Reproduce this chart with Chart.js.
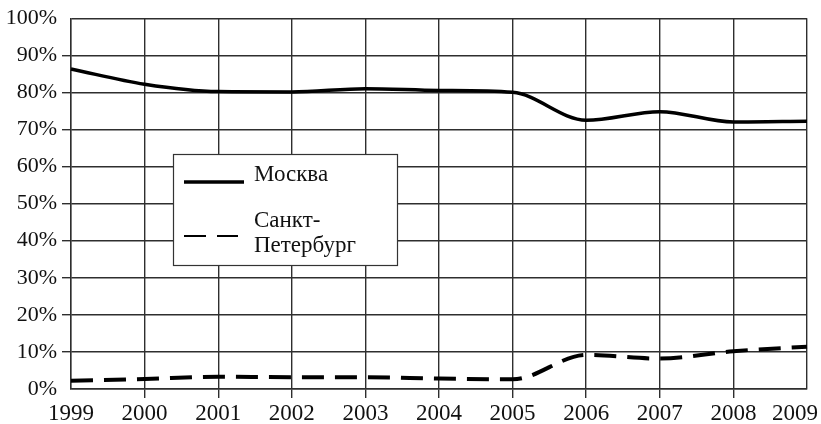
<!DOCTYPE html>
<html lang="ru">
<head>
<meta charset="utf-8">
<title>Москва и Санкт-Петербург, 1999–2009</title>
<script src="https://cdn.jsdelivr.net/npm/chart.js@4/dist/chart.umd.min.js"></script>
<style>
  html, body { margin: 0; padding: 0; background: #fff; }
  #wrap { width: 821px; height: 424px; }
</style>
</head>
<body>
<div id="wrap"><canvas id="chart" width="821" height="424"></canvas></div>
<script>
const years = ["1999", "2000", "2001", "2002", "2003", "2004", "2005", "2006", "2007", "2008", "2009"];
const moscow = [86.3, 82.2, 80.2, 80.1, 81.0, 80.5, 80.0, 72.5, 74.8, 72.0, 72.2];
const spb = [2.2, 2.7, 3.3, 3.2, 3.2, 2.8, 2.6, 9.2, 8.2, 10.2, 11.4];
const legendNames = ["Москва", ["Санкт-", "Петербург"]];

const INK = "#111";
const GRID = "#2e2e2e";
const SERIF = "'Liberation Serif', 'DejaVu Serif', serif";

// no tick stub at the frame edges, only at inner grid lines
const stubColor = (ctx) =>
  ctx.index === 0 || ctx.index === ctx.chart.scales[ctx.scale.id].ticks.length - 1
    ? "rgba(0,0,0,0)"
    : GRID;

// year labels under the axis, kept inside the canvas at the right end
const yearLabels = {
  id: "yearLabels",
  afterDraw(chart) {
    const { ctx, scales } = chart;
    const x = scales.x;
    ctx.save();
    ctx.font = "23px " + SERIF;
    ctx.fillStyle = INK;
    ctx.textAlign = "left";
    ctx.textBaseline = "alphabetic";
    years.forEach((label, i) => {
      const w = ctx.measureText(label).width;
      let left = x.getPixelForTick(i) - w / 2;
      left = Math.min(left, chart.width - 3 - w);
      ctx.fillText(label, left, 420);
    });
    ctx.restore();
  },
};

// boxed legend inside the plot
const boxLegend = {
  id: "boxLegend",
  afterDraw(chart) {
    const { ctx } = chart;
    const box = { x: 173.5, y: 154.5, w: 224, h: 111 };
    ctx.save();
    ctx.fillStyle = "#fff";
    ctx.fillRect(box.x, box.y, box.w, box.h);
    ctx.strokeStyle = "#333";
    ctx.lineWidth = 1.2;
    ctx.strokeRect(box.x, box.y, box.w, box.h);

    ctx.strokeStyle = "#000";
    ctx.lineCap = "butt";
    ctx.lineWidth = 3.5;
    ctx.beginPath();
    ctx.moveTo(184, 182);
    ctx.lineTo(244, 182);
    ctx.stroke();

    ctx.lineWidth = 2;
    ctx.setLineDash([22, 11]);
    ctx.beginPath();
    ctx.moveTo(184, 236);
    ctx.lineTo(238, 236);
    ctx.stroke();
    ctx.setLineDash([]);

    ctx.fillStyle = INK;
    ctx.font = "23px " + SERIF;
    ctx.textBaseline = "alphabetic";
    ctx.fillText(legendNames[0], 254, 181);
    ctx.fillText(legendNames[1][0], 254, 227);
    ctx.fillText(legendNames[1][1], 254, 252);
    ctx.restore();
  },
};

new Chart(document.getElementById("chart"), {
  type: "line",
  data: {
    labels: years,
    datasets: [
      {
        label: "Москва",
        data: moscow,
        borderColor: "#000",
        borderWidth: 3.5,
        cubicInterpolationMode: "monotone",
        pointRadius: 0,
        fill: false,
      },
      {
        label: "Санкт-Петербург",
        data: spb,
        borderColor: "#000",
        borderWidth: 4,
        borderDash: [22, 11],
        cubicInterpolationMode: "monotone",
        pointRadius: 0,
        fill: false,
      },
    ],
  },
  options: {
    responsive: false,
    animation: false,
    layout: { padding: { top: 18, right: 14, left: 0, bottom: 0 } },
    plugins: {
      legend: { display: false },
      tooltip: { enabled: false },
    },
    scales: {
      x: {
        offset: false,
        grid: {
          color: GRID,
          lineWidth: 1.4,
          drawTicks: true,
          tickLength: 9,
          tickColor: stubColor,
        },
        border: { color: GRID, width: 1.4 },
        ticks: { display: false },
        afterFit(scale) {
          scale.height = 35;
        },
      },
      y: {
        min: 0,
        max: 100,
        grid: {
          color: GRID,
          lineWidth: 1.4,
          drawTicks: true,
          tickLength: 9,
          tickColor: stubColor,
        },
        border: { color: GRID, width: 1.4 },
        ticks: {
          stepSize: 10,
          padding: 5,
          color: INK,
          font: { family: SERIF, size: 22 },
          callback: (v) => v + "%",
        },
        afterFit(scale) {
          scale.width = 71;
        },
      },
    },
  },
  plugins: [yearLabels, boxLegend],
});
</script>
</body>
</html>
